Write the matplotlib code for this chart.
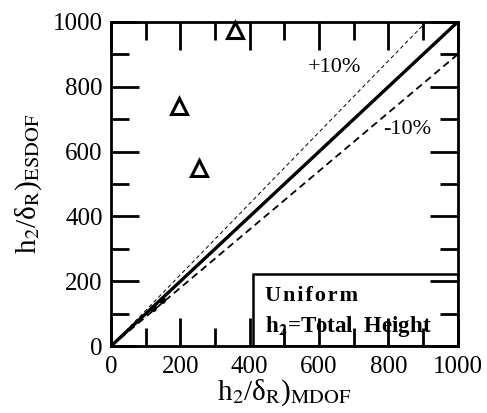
import numpy as np
import matplotlib.pyplot as plt
from matplotlib.ticker import MultipleLocator

plt.rcParams['font.family'] = ['Liberation Serif', 'DejaVu Serif']
plt.rcParams['mathtext.fontset'] = 'stix'

# ESDOF vs MDOF results
mdof = [357, 196, 254]
esdof = [975, 741, 549]
# points lying on the 1:1 line
mdof_on = [120, 146]
esdof_on = [116, 142]

ref = np.array([0, 1000])

fig = plt.figure(figsize=(4.87, 4.13), dpi=100)
ax = fig.add_axes([0.228, 0.162, 0.712, 0.785])

ax.plot(ref, ref, color='black', lw=2.4)
ax.plot(ref, 1.1 * ref, color='black', lw=0.7, dashes=(4, 3))
ax.plot(ref, 0.9 * ref, color='black', lw=1.3, dashes=(4, 2.5))
ax.plot(mdof_on, esdof_on, 'o', ms=4, mfc='black', mec='black')
ax.plot(mdof, esdof, '^', ms=11, mfc='white', mec='black', mew=2.2,
        clip_on=False, zorder=5)

ax.text(645, 858, '+10%', fontsize=16, ha='center', va='center')
ax.text(853, 667, '-10%', fontsize=16, ha='center', va='center')

ax.text(0.445, 0.155, 'U n i f o r m'.replace(' ', '\u200a'), transform=ax.transAxes,
        fontsize=16, fontweight='bold', va='center')
ax.text(0.445, 0.06, r'h$_{\mathbf{2}}$=Total  Height', transform=ax.transAxes,
        fontsize=16.5, fontweight='bold', va='center')
box = plt.Rectangle((409, 0), 591, 222, fill=False, lw=1.8, ec='black')
ax.add_patch(box)

ax.set_xlim(0, 1000)
ax.set_ylim(0, 1000)
ax.xaxis.set_major_locator(MultipleLocator(200))
ax.yaxis.set_major_locator(MultipleLocator(200))
ax.xaxis.set_minor_locator(MultipleLocator(100))
ax.yaxis.set_minor_locator(MultipleLocator(100))
ax.tick_params(which='both', direction='in', top=True, right=True,
               width=2, labelsize=18)
ax.tick_params(axis='x', pad=7)
ax.tick_params(axis='y', pad=6)
ax.tick_params(which='major', length=20)
ax.tick_params(which='minor', length=13)
for s in ax.spines.values():
    s.set_linewidth(2)

ax.set_xlabel('h$_2$/δ$_{\\rm R}$)$_{\\rm MDOF}$', fontsize=21, labelpad=0)
ax.set_ylabel('h$_2$/δ$_{\\rm R}$)$_{\\rm ESDOF}$', fontsize=21, labelpad=6)

fig.savefig('out.png', dpi=100)
